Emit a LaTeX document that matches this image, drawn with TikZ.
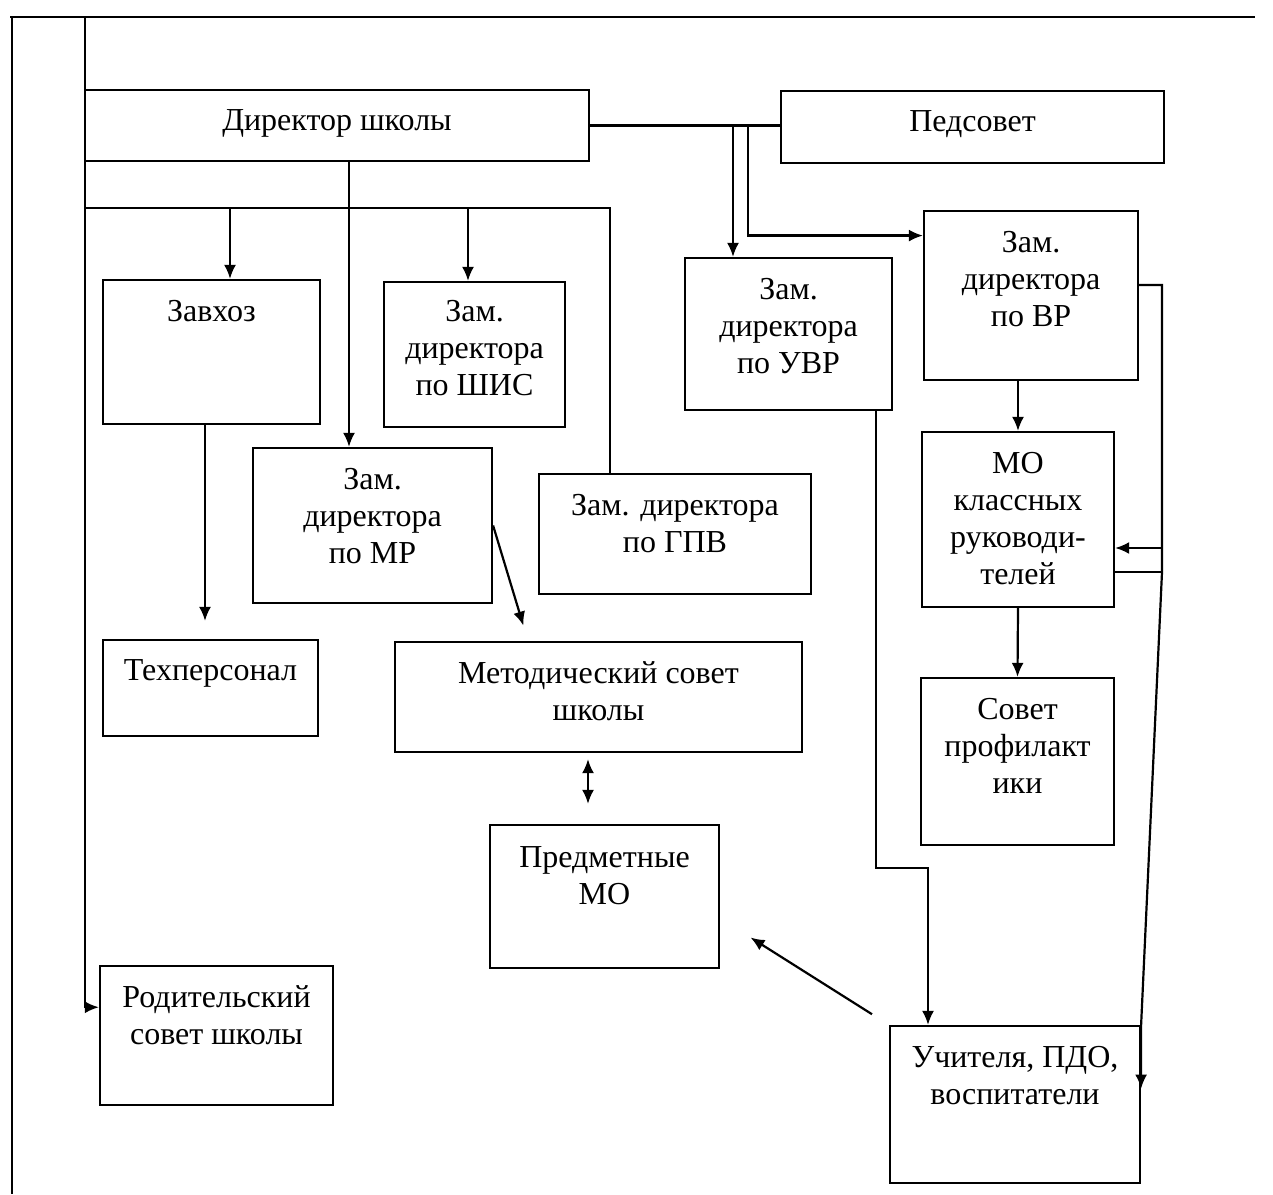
\documentclass[tikz,border=0pt]{standalone}
\usepackage{fontspec}
\setmainfont{Liberation Serif}
\usetikzlibrary{arrows.meta, positioning, fit, calc}

\begin{document}
\begin{tikzpicture}[
    x=0.5pt, y=-0.5pt,
    >={Latex[length=7pt,width=6pt]},
    line width=1.1pt,
    box/.style={rectangle, draw, inner sep=0pt},
    lbl/.style={align=center, inner sep=0pt, font=\fontsize{16}{18.5}\selectfont}
  ]
  \useasboundingbox (0,0) rectangle (1273,1194);

  % page frame
  \draw (10,17) -- (1255,17);
  \draw (12,17) -- (12,1194);

  % boxes
  \node[box, fit={(85,90) (589,161)}]    (dir) {};
  \node[box, fit={(781,91) (1164,163)}]  (ped) {};
  \node[box, fit={(103,280) (320,424)}]  (zav) {};
  \node[box, fit={(384,282) (565,427)}]  (shis) {};
  \node[box, fit={(685,258) (892,410)}]  (uvr) {};
  \node[box, fit={(924,211) (1138,380)}] (vr) {};
  \node[box, fit={(253,448) (492,603)}]  (mr) {};
  \node[box, fit={(539,474) (811,594)}]  (gpv) {};
  \node[box, fit={(922,432) (1114,607)}] (mo) {};
  \node[box, fit={(103,640) (318,736)}]  (tex) {};
  \node[box, fit={(395,642) (802,752)}]  (met) {};
  \node[box, fit={(921,678) (1114,845)}] (sov) {};
  \node[box, fit={(490,825) (719,968)}]  (pred) {};
  \node[box, fit={(100,966) (333,1105)}] (rod) {};
  \node[box, fit={(890,1026) (1140,1183)}] (uch) {};

  % texts
  \node[lbl, below=10pt of dir.north]  (dir-t)  {Директор школы};
  \node[lbl, below=10pt of ped.north]  (ped-t)  {Педсовет};
  \node[lbl, below=10pt of zav.north]  (zav-t)  {Завхоз};
  \node[lbl, below=9pt of shis.north]  (shis-t) {Зам.\\директора\\по ШИС};
  \node[lbl, below=10pt of uvr.north]  (uvr-t)  {Зам.\\директора\\по УВР};
  \node[lbl, below=10pt of vr.north]   (vr-t)   {Зам.\\директора\\по ВР};
  \node[lbl, below=10pt of mr.north]   (mr-t)   {Зам.\\директора\\по МР};
  \node[lbl, below=10pt of gpv.north]  (gpv-t)  {Зам. директора\\по ГПВ};
  \node[lbl, below=10pt of mo.north]   (mo-t)   {МО\\классных\\руководи-\\телей};
  \node[lbl, below=10pt of tex.north]  (tex-t)  {Техперсонал};
  \node[lbl, below=10pt of met.north]  (met-t)  {Методический совет\\школы};
  \node[lbl, below=10pt of sov.north]  (sov-t)  {Совет\\профилакт\\ики};
  \node[lbl, below=11pt of pred.north] (pred-t) {Предметные\\МО};
  \node[lbl, below=10pt of rod.north]  (rod-t)  {Родительский\\совет школы};
  \node[lbl, below=10pt of uch.north]  (uch-t)  {Учителя, ПДО,\\воспитатели};

  % junctions
  \coordinate (j1) at (733,127);
  \coordinate (j2) at (748,127);
  \coordinate (h0) at (85,208);
  \coordinate (h1) at (610,208);
  \coordinate (r1) at (1162,285);
  \coordinate (r2) at (1162,572);
  \coordinate (r3) at (1162,548);
  \coordinate (u1) at (876,868);
  \coordinate (u2) at (928,868);

  % director lines
  \draw[->] (85,17) |- ($(rod.north west)!0.3!(rod.south west)$);
  \draw (dir.east) -- (dir.east -| ped.west);
  \draw[->] (j1) -- (j1 |- uvr.north);
  \draw[->] (j2) |- ($(vr.north west)!0.15!(vr.south west)$);
  \draw (h0) -- (h1) -- (h1 |- gpv.north);
  \draw[->] (h0 -| 230,0) -- (zav.north -| 230,0);
  \draw[->] (h0 -| 468,0) -- (shis.north -| 468,0);
  \draw[->] (dir.south -| 349,0) -- (mr.north -| 349,0);

  % left part
  \draw[->, shorten >=9pt] (zav.south -| 205,0) -- (tex.north -| 205,0);
  \draw[->, shorten >=8pt] (mr.east) -- (met.north -| 528,0);
  \draw[<->, shorten <=3pt, shorten >=10pt] (met.south -| 588,0) -- (pred.north -| 588,0);

  % right part
  \draw[->] (vr.south -| mo.north) -- (mo.north);
  \draw[->] (mo.south) -- (sov.north);
  \draw[->] (vr.east |- r1) -- (r1) -- (r2) -- (uch.north east)
    -- ($(uch.north east)!0.4!(uch.south east)$);
  \draw[->] (r3) -- (mo.east |- r3);
  \draw (mo.east |- r2) -- (r2);
  \draw[->] (uvr.south -| u1) |- (u2) -- (u2 |- uch.north);
  \draw[->, shorten <=10pt, shorten >=18pt] (uch.north west)
    -- ($(pred.north east)!0.65!(pred.south east)$);
\end{tikzpicture}
\end{document}
